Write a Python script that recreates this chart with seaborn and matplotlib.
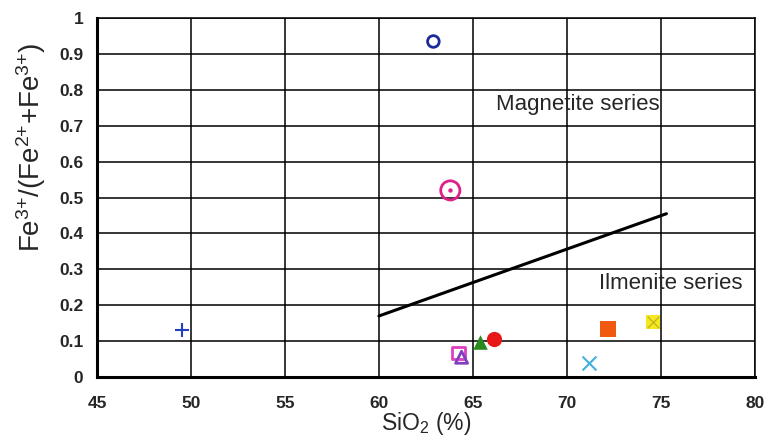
import pandas as pd
import seaborn as sns
import matplotlib.pyplot as plt

# data
sio2 = [62.9, 63.8, 49.5, 64.25, 64.4, 65.4, 66.1, 71.2, 72.2, 74.6]
fe_ratio = [0.935, 0.52, 0.13, 0.067, 0.055, 0.097, 0.105, 0.04, 0.135, 0.153]
markers = ["o", "o", "+", "s", "^", "^", "o", "x", "s", "s"]
colors = ["#1a2a9a", "#e0208a", "#2040c0", "#e040c0", "#8040c0",
          "#2a8a20", "#e81818", "#40b0e0", "#f05a10", "#f5e820"]
filled = [False, False, True, False, False, True, True, True, True, True]
sizes = [70, 190, 110, 85, 75, 110, 120, 100, 120, 110]

boundary_x = [60, 75.3]
boundary_y = [0.17, 0.455]

df = pd.DataFrame({"sio2": sio2, "fe": fe_ratio})

sns.set_style("white")
plt.rcParams['font.family'] = ['Liberation Sans', 'DejaVu Sans']
plt.rcParams['mathtext.fontset'] = 'custom'
plt.rcParams['mathtext.rm'] = 'Liberation Sans'
plt.rcParams['mathtext.it'] = 'Liberation Sans'
plt.rcParams['mathtext.default'] = 'regular'

fig, ax = plt.subplots(figsize=(7.67, 4.43), dpi=100)
fig.subplots_adjust(left=0.1265, right=0.984, bottom=0.149, top=0.959)

for i in range(len(df)):
    row = df.iloc[[i]]
    if markers[i] in ("+", "x"):
        sns.scatterplot(data=row, x="sio2", y="fe", marker=markers[i], s=sizes[i],
                        color=colors[i], linewidth=1.5, ax=ax, zorder=5)
    elif filled[i]:
        sns.scatterplot(data=row, x="sio2", y="fe", marker=markers[i], s=sizes[i],
                        color=colors[i], linewidth=0, ax=ax, zorder=5)
    else:
        sns.scatterplot(data=row, x="sio2", y="fe", marker=markers[i], s=sizes[i],
                        facecolor="none", edgecolor=colors[i], linewidth=2.0,
                        ax=ax, zorder=5)

# centre dot on the pink circle, cross on the yellow square
sns.scatterplot(data=df.iloc[[1]], x="sio2", y="fe", marker="o", s=10,
                color=colors[1], linewidth=0, ax=ax, zorder=6)
sns.scatterplot(data=df.iloc[[9]], x="sio2", y="fe", marker="x", s=70,
                color="#c8b820", linewidth=1.0, ax=ax, zorder=6)

sns.lineplot(x=boundary_x, y=boundary_y, color="black", linewidth=2.2, ax=ax)

ax.text(70.6, 0.76, "Magnetite series", fontsize=16, ha="center", va="center")
ax.text(71.7, 0.26, "Ilmenite series", fontsize=16, ha="left", va="center")

ax.set_xlim(45, 80)
ax.set_ylim(0, 1)
ax.set_xticks(range(45, 81, 5))
ax.set_yticks([i / 10 for i in range(11)])
ax.set_yticklabels(["0", "0.1", "0.2", "0.3", "0.4", "0.5", "0.6", "0.7", "0.8", "0.9", "1"])
ax.grid(True, color="black", linewidth=1.1)
ax.tick_params(axis="y", length=0, labelsize=12.5, pad=10)
ax.tick_params(axis="x", length=0, labelsize=12.5, pad=14)
for lab in ax.get_xticklabels() + ax.get_yticklabels():
    lab.set_fontweight("bold")
for side in ["top", "right"]:
    ax.spines[side].set_color("black")
    ax.spines[side].set_linewidth(1.1)
for side in ["left", "bottom"]:
    ax.spines[side].set_color("black")
    ax.spines[side].set_linewidth(2.2)

ax.set_xlabel("SiO$_2$ (%)", fontsize=16.5, labelpad=-1)
ax.set_ylabel("Fe$^{3{+}}$/(Fe$^{2{+}}$+Fe$^{3{+}}$)", fontsize=20)
ax.yaxis.set_label_coords(-0.074, 0.64)

plt.savefig("out.png", dpi=100)
